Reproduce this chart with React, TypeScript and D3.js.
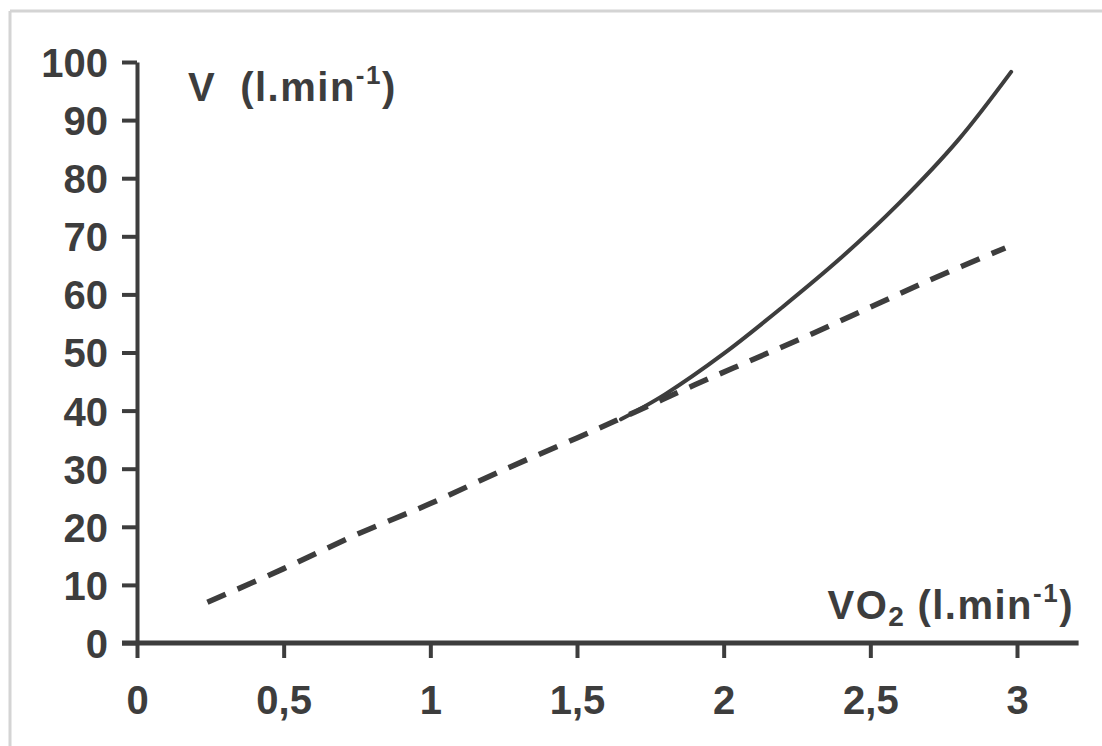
import React, { useEffect, useRef } from 'react';
import * as d3 from 'd3';

// ventilation vs oxygen uptake
const xTicks = [0, 0.5, 1, 1.5, 2, 2.5, 3];
const xTickLabels = ['0', '0,5', '1', '1,5', '2', '2,5', '3'];
const yTicks = [0, 10, 20, 30, 40, 50, 60, 70, 80, 90, 100];

// dashed (linear) series
const dashedX = [0.24, 0.5, 0.75, 1.0, 1.25, 1.5, 1.7, 1.9, 2.1, 2.3, 2.5, 2.7, 2.96];
const dashedV = [7, 12.8, 18.7, 24, 29.8, 35.3, 39.8, 44.4, 48.8, 53.2, 57.8, 62.4, 68];

// solid (real) series
const solidX = [1.65, 1.8, 2.0, 2.2, 2.4, 2.6, 2.8, 2.98];
const solidV = [38.5, 42.8, 49.8, 57.8, 66.3, 75.8, 86.6, 98.3];

const W = 1102;
const H = 746;
const INK = '#3d3d3d';
const FONT = '"Liberation Sans", Arial, sans-serif';

export default function App() {
  const ref = useRef<SVGSVGElement>(null);

  useEffect(() => {
    const svg = d3.select(ref.current);
    svg.selectAll('*').remove();

    const x = d3.scaleLinear().domain([0, 3]).range([137, 1017]);
    const y = d3.scaleLinear().domain([0, 100]).range([643, 62]);

    // scanned page frame
    svg.append('rect').attr('width', W).attr('height', H).attr('fill', '#ffffff');
    svg.append('line').attr('x1', 10).attr('x2', W).attr('y1', 11).attr('y2', 11)
      .attr('stroke', '#d4d4d4').attr('stroke-width', 3);
    svg.append('line').attr('x1', 10).attr('x2', 10).attr('y1', 11).attr('y2', H)
      .attr('stroke', '#d4d4d4').attr('stroke-width', 3);

    const g = svg.append('g');

    // y axis
    const yAxis = g.append('g')
      .attr('transform', `translate(${x(0)},0)`)
      .call(d3.axisLeft(y).tickValues(yTicks).tickSize(15).tickSizeOuter(0).tickPadding(14));
    yAxis.select('.domain').attr('stroke', INK).attr('stroke-width', 4);
    yAxis.selectAll('.tick line').attr('stroke', INK).attr('stroke-width', 4);
    yAxis.selectAll('.tick text')
      .attr('fill', INK).attr('font-family', FONT).attr('font-weight', 'bold')
      .attr('font-size', 40).attr('dy', '0.36em');

    // x axis
    const xAxis = g.append('g')
      .attr('transform', `translate(0,${y(0)})`)
      .call(d3.axisBottom(x).tickValues(xTicks).tickSize(15).tickSizeOuter(0)
        .tickFormat((d, i) => xTickLabels[i]).tickPadding(28));
    xAxis.select('.domain').remove();
    xAxis.append('line')
      .attr('x1', x(0) - 15).attr('x2', x(3.21))
      .attr('stroke', INK).attr('stroke-width', 5);
    xAxis.selectAll('.tick line').attr('stroke', INK).attr('stroke-width', 4);
    xAxis.selectAll('.tick text')
      .attr('fill', INK).attr('font-family', FONT).attr('font-weight', 'bold')
      .attr('font-size', 40);

    const line = d3.line<[number, number]>()
      .x((d) => x(d[0]))
      .y((d) => y(d[1]))
      .curve(d3.curveCatmullRom);

    g.append('path')
      .datum(dashedX.map((v, i) => [v, dashedV[i]] as [number, number]))
      .attr('fill', 'none').attr('stroke', INK).attr('stroke-width', 5.5)
      .attr('stroke-dasharray', '20,13')
      .attr('d', line);

    g.append('path')
      .datum(solidX.map((v, i) => [v, solidV[i]] as [number, number]))
      .attr('fill', 'none').attr('stroke', INK).attr('stroke-width', 4)
      .attr('stroke-linecap', 'round')
      .attr('d', line);

    // axis titles
    const vt = g.append('text')
      .attr('x', 188).attr('y', 101)
      .attr('fill', INK).attr('font-family', FONT).attr('font-weight', 'bold')
      .attr('font-size', 40).attr('letter-spacing', 1.5);
    vt.append('tspan').text('V');
    vt.append('tspan').attr('dx', 24).text('(l.min');
    vt.append('tspan').attr('font-size', 26).attr('dy', -17).text('-1');
    vt.append('tspan').attr('dy', 17).text(')');

    const xt = g.append('text')
      .attr('x', 1074).attr('y', 619).attr('text-anchor', 'end')
      .attr('fill', INK).attr('font-family', FONT).attr('font-weight', 'bold')
      .attr('font-size', 40).attr('letter-spacing', 1.5);
    xt.append('tspan').text('VO');
    xt.append('tspan').attr('font-size', 28).attr('dy', 7).text('2');
    xt.append('tspan').attr('dy', -7).attr('dx', 12).text('(l.min');
    xt.append('tspan').attr('font-size', 26).attr('dy', -17).text('-1');
    xt.append('tspan').attr('dy', 17).text(')');
  }, []);

  return (
    <svg
      ref={ref}
      width={W}
      height={H}
      style={{ position: 'absolute', left: 0, top: 0, display: 'block' }}
    />
  );
}
